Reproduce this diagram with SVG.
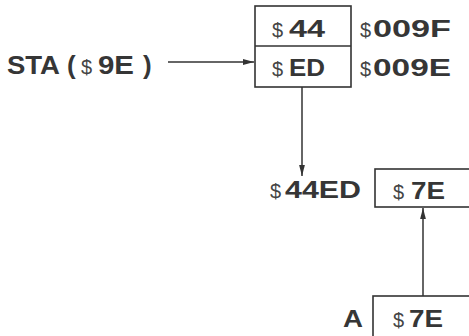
<svg xmlns="http://www.w3.org/2000/svg" width="469" height="336" viewBox="0 0 469 336">
<defs>
<marker id="ah" markerUnits="userSpaceOnUse" markerWidth="11" markerHeight="7" refX="11" refY="3.5" orient="auto"><path d="M0,0.6 L11,3.5 L0,6.4 z" fill="#333"/></marker>
<style>
.t{font-family:"Liberation Sans",Arial,sans-serif;font-weight:bold;font-size:24px;fill:#363636}
.s{font-size:26px}
.d{font-family:"Liberation Sans",Arial,sans-serif;font-weight:normal;font-size:20px;fill:#444}
.b{fill:#fff;stroke:#333;stroke-width:1.6}
.c{stroke:#333;stroke-width:1.5;fill:none}
</style>
</defs>
<rect width="469" height="336" fill="#fff"/>
<g id="connectors">
<line class="c" x1="168" y1="62" x2="254" y2="62" marker-end="url(#ah)"/>
<line class="c" x1="302" y1="87" x2="302" y2="176" marker-end="url(#ah)"/>
<line class="c" x1="423" y1="296" x2="423" y2="208" marker-end="url(#ah)"/>
</g>
<g id="sta">
<text class="t s" x="7" y="74" textLength="53" lengthAdjust="spacingAndGlyphs">STA</text>
<text class="t s" x="67" y="74">(</text>
<text class="d" x="81" y="74">$</text>
<text class="t s" x="98" y="74" textLength="36" lengthAdjust="spacingAndGlyphs">9E</text>
<text class="t s" x="143" y="74">)</text>
</g>
<g id="pointer">
<rect class="b" x="255" y="6" width="96" height="81"/>
<line class="b" x1="255" y1="46" x2="351" y2="46"/>
<text class="d" x="272" y="37">$</text>
<text class="t" x="289" y="37" textLength="36" lengthAdjust="spacingAndGlyphs">44</text>
<text class="d" x="272" y="76">$</text>
<text class="t" x="289" y="76" textLength="36" lengthAdjust="spacingAndGlyphs">ED</text>
</g>
<g id="addr-009F">
<text class="d" x="360" y="37">$</text>
<text class="t" x="373" y="37" textLength="78" lengthAdjust="spacingAndGlyphs">009F</text>
</g>
<g id="addr-009E">
<text class="d" x="360" y="76">$</text>
<text class="t" x="373" y="76" textLength="78" lengthAdjust="spacingAndGlyphs">009E</text>
</g>
<g id="target">
<text class="d" x="270" y="198">$</text>
<text class="t" x="285" y="198" textLength="76" lengthAdjust="spacingAndGlyphs">44ED</text>
<rect class="b" x="375" y="169" width="120" height="38"/>
<text class="d" x="393" y="199">$</text>
<text class="t" x="411" y="199" textLength="34" lengthAdjust="spacingAndGlyphs">7E</text>
</g>
<g id="accumulator">
<text class="t" x="343" y="327" textLength="20" lengthAdjust="spacingAndGlyphs">A</text>
<rect class="b" x="373" y="296" width="120" height="60"/>
<text class="d" x="393" y="327">$</text>
<text class="t" x="409" y="327" textLength="34" lengthAdjust="spacingAndGlyphs">7E</text>
</g>
</svg>
